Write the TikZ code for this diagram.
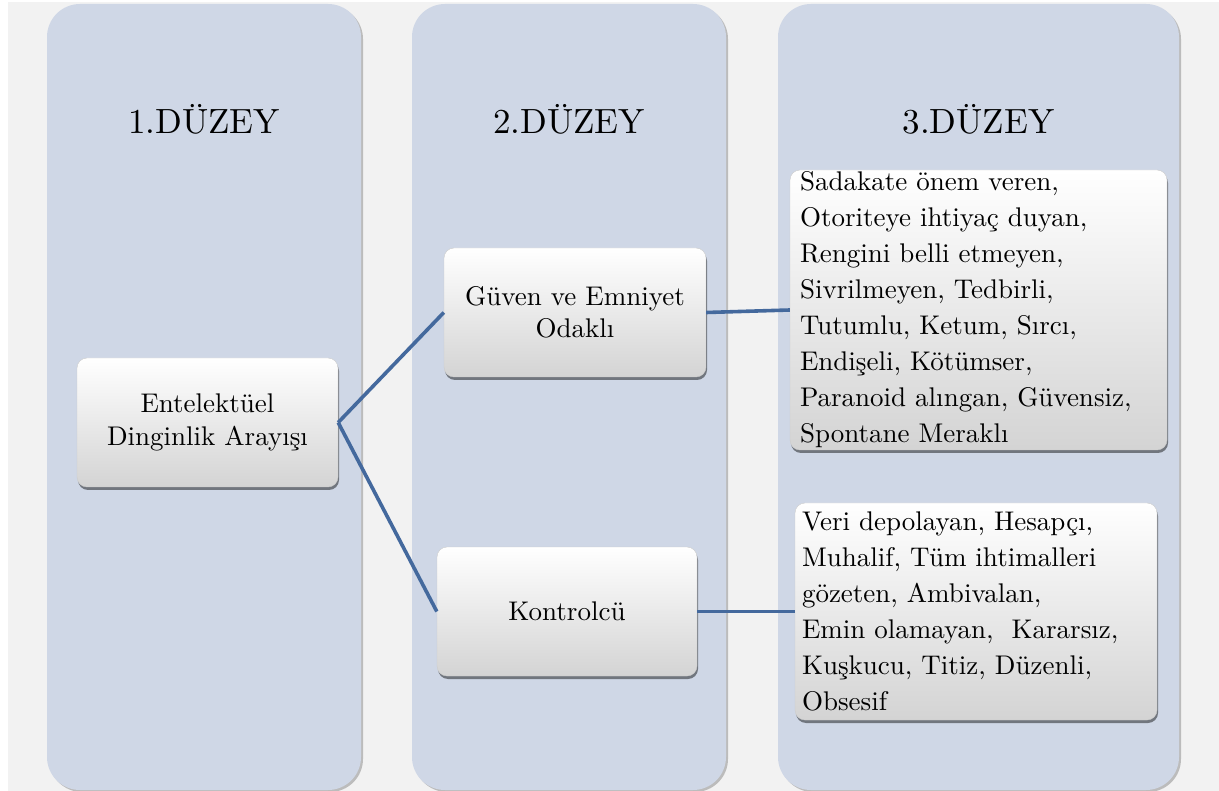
\documentclass[tikz,border=0pt]{standalone}
\usepackage{fontspec}
\setmainfont{lmroman10-regular}[Extension=.otf]
\usetikzlibrary{shadows}
\definecolor{bgc}{HTML}{F2F2F2}
\definecolor{colc}{HTML}{CFD7E6}
\definecolor{linec}{HTML}{44699D}
\begin{document}
\begin{tikzpicture}[x=1pt,y=-1pt,
  column/.style={fill=colc, rounded corners=33pt, inner sep=0pt,
    drop shadow={shadow xshift=2pt,shadow yshift=-2pt,opacity=0.22,fill=black}},
  title/.style={font=\fontsize{35}{40}\selectfont, anchor=base, inner sep=0pt},
  box/.style={draw=black!20, line width=0.4pt, rounded corners=10pt,
    top color=white, bottom color=black!17, inner sep=0pt, align=center,
    font=\fontsize{27}{32.5}\selectfont,
    drop shadow={shadow xshift=1pt,shadow yshift=-3pt,opacity=0.45,fill=black}},
  listbox/.style={box, align=left, font=\fontsize{27}{36}\selectfont},
  conn/.style={draw=linec, line width=3.6pt}]
\useasboundingbox (0,0) rectangle (1219,791);
\fill[white] (0,0) rectangle (1219,791);
\fill[bgc] (8,2) rectangle (1219,791);
% columns
\node[column, minimum width=314pt, minimum height=786pt] (c1) at (204,397) {};
\node[column, minimum width=314pt, minimum height=786pt] (c2) at (569,397) {};
\node[column, minimum width=401pt, minimum height=786pt] (c3) at (978.5,397) {};
% titles
\node[title] (t1) at (204,134) {1.DÜZEY};
\node[title] (t2) at (569,134) {2.DÜZEY};
\node[title] (t3) at (978.5,134) {3.DÜZEY};
% boxes
\node[box, minimum width=261pt, minimum height=129pt] (a) at (207.5,422.5) {Entelektüel\\Dinginlik Arayışı};
\node[box, minimum width=262pt, minimum height=129pt] (b) at (575,312.5) {Güven ve Emniyet\\Odaklı};
\node[box, minimum width=260pt, minimum height=129pt] (c) at (567,611.5) {Kontrolcü};
\node[listbox, text width=357pt, inner xsep=10pt, minimum height=280pt] (d) at (978.5,310)
  {Sadakate önem veren,\\Otoriteye ihtiyaç duyan,\\Rengini belli etmeyen,\\Sivrilmeyen, Tedbirli,\\Tutumlu, Ketum, Sırcı,\\Endişeli, Kötümser,\\Paranoid alıngan, Güvensiz,\\Spontane Meraklı};
\node[listbox, text width=348pt, inner xsep=7pt, minimum height=217pt] (e) at (976,611.5)
  {Veri depolayan, Hesapçı,\\Muhalif, Tüm ihtimalleri\\gözeten, Ambivalan,\\Emin olamayan,~ Kararsız,\\Kuşkucu, Titiz, Düzenli,\\Obsesif};
% connectors
\draw[conn] (a.east) -- (b.west);
\draw[conn] (a.east) -- (c.west);
\draw[conn] (b.east) -- (d.west);
\draw[conn] (c.east) -- (e.west);
\end{tikzpicture}
\end{document}
